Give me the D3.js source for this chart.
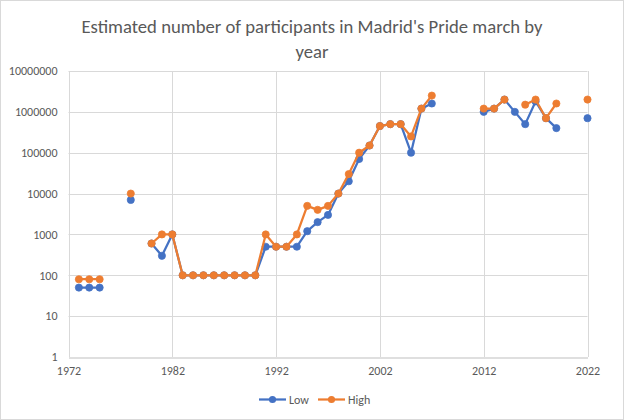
<!DOCTYPE html>
<html>
<head>
<meta charset="utf-8">
<script src="https://cdn.jsdelivr.net/npm/d3@7"></script>
<style>
  html, body { margin: 0; padding: 0; background: #fff; }
  svg { display: block; }
  text { font-family: "Carlito", "Liberation Sans Narrow", "Open Sans", sans-serif; fill: #595959; }
</style>
</head>
<body>
<svg id="chart" width="624" height="420"></svg>
<script>
const titleLines = ["Estimated number of participants in Madrid's Pride march by", "year"];
const years = d3.range(1973, 2023);
const low = [
  50, 50, 50, null, null, 7000, null, 600, 300, 1000,
  100, 100, 100, 100, 100, 100, 100, 100,
  500, 500, 500, 500, 1200, 2000, 3000, 10000, 20000, 70000,
  150000, 450000, 500000, 500000, 100000, 1200000, 1600000,
  null, null, null, null,
  1000000, 1200000, 2000000, 1000000, 500000, 1800000, 700000, 400000,
  null, null, 700000
];
const high = [
  80, 80, 80, null, null, 10000, null, 600, 1000, 1000,
  100, 100, 100, 100, 100, 100, 100, 100,
  1000, 500, 500, 1000, 5000, 4000, 5000, 10000, 30000, 100000,
  150000, 450000, 500000, 500000, 250000, 1200000, 2500000,
  null, null, null, null,
  1200000, 1200000, 2000000, null, 1500000, 2000000, 700000, 1600000,
  null, null, 2000000
];
const xTicks = [1972, 1982, 1992, 2002, 2012, 2022];
const yTicks = [1, 10, 100, 1000, 10000, 100000, 1000000, 10000000];
const seriesNames = ["Low", "High"];
const seriesColors = ["#4472C4", "#ED7D31"];

const svg = d3.select("#chart");
const W = 624, H = 420;

svg.append("rect").attr("x", 0.5).attr("y", 0.5).attr("width", W - 1).attr("height", H - 1)
  .attr("fill", "#fff").attr("stroke", "#d9d9d9");

const x = d3.scaleLinear().domain([1972, 2022]).range([68.5, 587.5]);
const y = d3.scaleLog().domain([1, 1e7]).range([357, 71]);

// gridlines
const g = svg.append("g");
g.selectAll("line.h").data(yTicks.slice(1)).join("line")
  .attr("x1", x(1972)).attr("x2", x(2022))
  .attr("y1", d => Math.round(y(d)) + 0.5).attr("y2", d => Math.round(y(d)) + 0.5)
  .attr("stroke", "#d9d9d9").attr("stroke-width", 1);
g.selectAll("line.v").data(xTicks).join("line")
  .attr("x1", d => Math.round(x(d)) + 0.5).attr("x2", d => Math.round(x(d)) + 0.5)
  .attr("y1", y(1e7)).attr("y2", y(1))
  .attr("stroke", "#d9d9d9").attr("stroke-width", 1);

// axes
const yAxis = d3.axisLeft(y).tickValues(yTicks).tickFormat(d3.format("d")).tickSize(0).tickPadding(11);
const yg = svg.append("g").attr("transform", `translate(${x(1972)},0)`).call(yAxis);
yg.select(".domain").remove();
yg.selectAll("text").style("font-size", "12px").attr("fill", "#595959");

const xAxis = d3.axisBottom(x).tickValues(xTicks).tickFormat(d3.format("d")).tickSize(0).tickPadding(9);
const xg = svg.append("g").attr("transform", `translate(0,${Math.round(y(1)) + 0.5})`).call(xAxis);
xg.select(".domain").attr("stroke", "#bfbfbf").attr("stroke-width", 1);
xg.selectAll("text").style("font-size", "12px").attr("fill", "#595959");

// series
const seriesData = [low, high];
seriesData.forEach((vals, i) => {
  const pts = years.map((yr, j) => ({ yr, v: vals[j] }));
  const line = d3.line().defined(d => d.v != null).x(d => x(d.yr)).y(d => y(d.v));
  svg.append("path").datum(pts).attr("d", line)
    .attr("fill", "none").attr("stroke", seriesColors[i]).attr("stroke-width", 2.25)
    .attr("stroke-linejoin", "round").attr("stroke-linecap", "round");
  svg.append("g").selectAll("circle").data(pts.filter(d => d.v != null)).join("circle")
    .attr("cx", d => x(d.yr)).attr("cy", d => y(d.v)).attr("r", 3.6)
    .attr("fill", seriesColors[i]).attr("stroke", seriesColors[i]).attr("stroke-width", 0.75);
});

// title
const title = svg.append("text").attr("text-anchor", "middle").style("font-size", "18.7px");
titleLines.forEach((t, i) => {
  title.append("tspan").attr("x", 312).attr("y", 33 + i * 24.5).text(t);
});
// fit first line width to ~461px
const tl = title.select("tspan").node().getComputedTextLength();
if (tl > 0) title.style("font-size", (18.7 * 461 / tl).toFixed(2) + "px");

// legend
const legend = svg.append("g");
const legItems = [{ x0: 259, tx: 289 }, { x0: 318, tx: 348 }];
seriesNames.forEach((name, i) => {
  const it = legItems[i];
  legend.append("line").attr("x1", it.x0).attr("x2", it.x0 + 27).attr("y1", 399.5).attr("y2", 399.5)
    .attr("stroke", seriesColors[i]).attr("stroke-width", 2.25);
  legend.append("circle").attr("cx", it.x0 + 13.5).attr("cy", 399.5).attr("r", 3.6).attr("fill", seriesColors[i]);
  legend.append("text").attr("x", it.tx).attr("y", 404).style("font-size", "12px").text(name);
});
</script>
</body>
</html>
